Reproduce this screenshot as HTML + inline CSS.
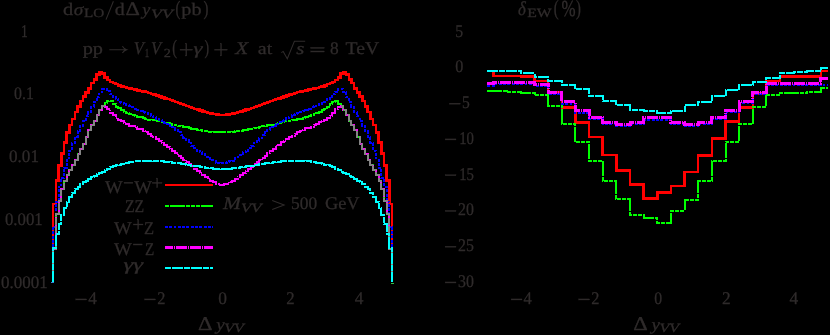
<!DOCTYPE html>
<html><head><meta charset="utf-8"><title>plot</title>
<style>html,body{margin:0;padding:0;background:#000;width:830px;height:335px;overflow:hidden;font-family:"Liberation Serif",serif}</style></head>
<body>
<svg width="830" height="335" viewBox="0 0 830 335" style="position:absolute;left:0;top:0">
<rect width="830" height="335" fill="#000"/>
<g fill="none" stroke-linejoin="miter" stroke-linecap="butt" shape-rendering="crispEdges">
<path d="M53.15 281.50V203.95 H55.86V180.40 H58.57V165.49 H61.29V153.59 H64.00V142.69 H66.71V132.65 H69.42V124.90 H72.13V118.98 H74.85V111.88 H77.56V106.38 H80.27V101.07 H82.98V96.27 H85.69V92.41 H88.41V88.25 H91.12V83.15 H93.83V79.32 H96.54V74.50 H99.25V72.00 H101.97V73.33 H104.68V77.53 H107.39V80.03 H110.10V81.77 H112.81V82.92 H115.53V84.17 H118.24V85.40 H120.95V86.30 H123.66V87.13 H126.37V87.93 H129.09V88.53 H131.80V89.12 H134.51V89.72 H137.22V90.32 H139.93V90.92 H142.65V91.52 H145.36V92.12 H148.07V92.88 H150.78V93.79 H153.49V94.70 H156.21V95.61 H158.92V96.52 H161.63V97.41 H164.34V98.28 H167.05V99.16 H169.77V100.04 H172.48V100.92 H175.19V101.91 H177.90V102.99 H180.61V104.06 H183.33V105.13 H186.04V106.21 H188.75V107.22 H191.46V108.05 H194.17V108.87 H196.89V109.70 H199.60V110.53 H202.31V111.36 H205.02V112.19 H207.73V113.02 H210.45V113.64 H213.16V114.15 H215.87V114.65 H218.58V114.97 H221.29V115.20 H224.01V114.97 H226.72V114.65 H229.43V114.15 H232.14V113.64 H234.85V113.02 H237.57V112.19 H240.28V111.36 H242.99V110.53 H245.70V109.70 H248.41V108.87 H251.13V108.05 H253.84V107.22 H256.55V106.21 H259.26V105.13 H261.97V104.06 H264.69V102.99 H267.40V101.91 H270.11V100.92 H272.82V100.04 H275.53V99.16 H278.25V98.28 H280.96V97.41 H283.67V96.52 H286.38V95.61 H289.09V94.70 H291.81V93.79 H294.52V92.88 H297.23V92.12 H299.94V91.52 H302.65V90.92 H305.37V90.32 H308.08V89.72 H310.79V89.12 H313.50V88.53 H316.21V87.93 H318.93V87.13 H321.64V86.30 H324.35V85.40 H327.06V84.17 H329.77V82.92 H332.49V81.77 H335.20V80.03 H337.91V77.53 H340.62V73.33 H343.33V72.00 H346.05V74.50 H348.76V79.32 H351.47V83.15 H354.18V88.25 H356.89V92.41 H359.61V96.27 H362.32V101.07 H365.03V106.38 H367.74V111.88 H370.45V118.98 H373.17V124.90 H375.88V132.65 H378.59V142.69 H381.30V153.59 H384.01V165.49 H386.73V180.40 H389.44V203.95 H392.15V281.50" stroke="#ff0000" stroke-width="2.5"/>
<path d="M53.15 281.50V248.92 H55.86V213.91 H58.57V200.87 H61.29V188.88 H64.00V181.38 H66.71V175.37 H69.42V169.86 H72.13V164.92 H74.85V159.81 H77.56V154.41 H80.27V149.01 H82.98V143.61 H85.69V137.36 H88.41V130.26 H91.12V125.03 H93.83V120.80 H96.54V114.80 H99.25V109.94 H101.97V106.13 H104.68V102.73 H107.39V100.62 H110.10V101.37 H112.81V104.09 H115.53V107.02 H118.24V108.40 H120.95V110.24 H123.66V111.64 H126.37V113.15 H129.09V114.27 H131.80V115.01 H134.51V115.77 H137.22V117.34 H139.93V117.17 H142.65V118.29 H145.36V119.21 H148.07V120.01 H150.78V120.20 H153.49V120.48 H156.21V121.13 H158.92V121.30 H161.63V121.99 H164.34V122.68 H167.05V123.04 H169.77V124.37 H172.48V124.67 H175.19V125.23 H177.90V126.13 H180.61V126.39 H183.33V126.79 H186.04V127.38 H188.75V128.20 H191.46V128.65 H194.17V129.09 H196.89V129.62 H199.60V130.48 H202.31V130.71 H205.02V130.92 H207.73V131.56 H210.45V131.96 H213.16V131.75 H215.87V132.16 H218.58V132.35 H221.29V132.44 H224.01V132.17 H226.72V131.84 H229.43V132.11 H232.14V131.74 H234.85V131.27 H237.57V131.31 H240.28V130.99 H242.99V130.16 H245.70V129.68 H248.41V128.96 H251.13V128.64 H253.84V127.70 H256.55V127.80 H259.26V126.60 H261.97V126.44 H264.69V125.62 H267.40V124.99 H270.11V124.63 H272.82V124.52 H275.53V123.54 H278.25V122.97 H280.96V122.10 H283.67V121.21 H286.38V121.17 H289.09V120.87 H291.81V120.35 H294.52V119.72 H297.23V119.11 H299.94V118.73 H302.65V117.61 H305.37V117.26 H308.08V115.67 H310.79V115.39 H313.50V113.99 H316.21V113.29 H318.93V112.13 H321.64V109.90 H324.35V109.00 H327.06V107.23 H329.77V103.70 H332.49V101.60 H335.20V100.75 H337.91V103.68 H340.62V106.13 H343.33V109.94 H346.05V114.80 H348.76V120.80 H351.47V125.03 H354.18V130.26 H356.89V137.36 H359.61V143.61 H362.32V149.01 H365.03V154.41 H367.74V159.81 H370.45V164.92 H373.17V169.86 H375.88V175.37 H378.59V181.38 H381.30V188.88 H384.01V200.87 H386.73V213.91 H389.44V248.92 H392.15V281.50" stroke="#00ff00" stroke-width="2.0" stroke-dasharray="15 1 4 1 4 1 4 1"/>
<path d="M53.15 281.50V226.94 H55.86V201.90 H58.57V186.90 H61.29V177.84 H64.00V167.62 H66.71V158.46 H69.42V150.70 H72.13V142.93 H74.85V136.82 H77.56V131.30 H80.27V125.78 H82.98V120.95 H85.69V116.44 H88.41V111.90 H91.12V106.95 H93.83V102.00 H96.54V97.21 H99.25V92.49 H101.97V89.20 H104.68V89.17 H107.39V91.27 H110.10V94.34 H112.81V97.15 H115.53V99.05 H118.24V101.65 H120.95V102.60 H123.66V104.31 H126.37V104.98 H129.09V106.10 H131.80V107.33 H134.51V108.67 H137.22V110.11 H139.93V110.50 H142.65V111.88 H145.36V112.82 H148.07V113.63 H150.78V115.64 H153.49V116.62 H156.21V118.77 H158.92V119.51 H161.63V120.60 H164.34V122.61 H167.05V123.96 H169.77V125.50 H172.48V127.39 H175.19V129.61 H177.90V132.33 H180.61V135.26 H183.33V137.65 H186.04V140.46 H188.75V143.17 H191.46V145.69 H194.17V148.42 H196.89V150.77 H199.60V152.49 H202.31V154.22 H205.02V156.64 H207.73V158.12 H210.45V160.29 H213.16V161.18 H215.87V162.65 H218.58V163.12 H221.29V163.00 H224.01V162.96 H226.72V162.24 H229.43V161.38 H232.14V160.66 H234.85V158.22 H237.57V156.63 H240.28V155.02 H242.99V152.20 H245.70V150.58 H248.41V147.97 H251.13V145.70 H253.84V142.90 H256.55V140.68 H259.26V138.12 H261.97V135.25 H264.69V132.06 H267.40V130.02 H270.11V127.08 H272.82V125.56 H275.53V124.38 H278.25V122.03 H280.96V121.01 H283.67V120.26 H286.38V118.06 H289.09V116.68 H291.81V114.96 H294.52V113.85 H297.23V112.97 H299.94V111.72 H302.65V110.55 H305.37V109.62 H308.08V108.50 H310.79V107.43 H313.50V106.43 H316.21V104.76 H318.93V104.04 H321.64V103.07 H324.35V101.85 H327.06V99.27 H329.77V96.81 H332.49V94.48 H335.20V91.90 H337.91V89.15 H340.62V89.20 H343.33V92.49 H346.05V97.21 H348.76V102.00 H351.47V106.95 H354.18V111.90 H356.89V116.44 H359.61V120.95 H362.32V125.78 H365.03V131.30 H367.74V136.82 H370.45V142.93 H373.17V150.70 H375.88V158.46 H378.59V167.62 H381.30V177.84 H384.01V186.90 H386.73V201.90 H389.44V226.94 H392.15V281.50" stroke="#0000ff" stroke-width="2.0" stroke-dasharray="2.9 1.4"/>
<path d="M53.15 281.50V248.92 H55.86V213.91 H58.57V200.87 H61.29V188.88 H64.00V181.38 H66.71V175.37 H69.42V169.86 H72.13V164.92 H74.85V159.81 H77.56V154.41 H80.27V149.01 H82.98V143.61 H85.69V137.36 H88.41V130.26 H91.12V125.03 H93.83V120.80 H96.54V114.80 H99.25V109.94 H101.97V106.13 H104.68V106.89 H107.39V108.83 H110.10V112.58 H112.81V115.49 H115.53V117.51 H118.24V119.90 H120.95V121.12 H123.66V122.72 H126.37V123.68 H129.09V125.53 H131.80V126.30 H134.51V127.35 H137.22V128.60 H139.93V129.45 H142.65V130.72 H145.36V132.14 H148.07V133.68 H150.78V135.68 H153.49V137.37 H156.21V138.98 H158.92V141.14 H161.63V142.57 H164.34V144.59 H167.05V146.78 H169.77V148.81 H172.48V150.97 H175.19V153.37 H177.90V155.60 H180.61V157.93 H183.33V159.85 H186.04V162.09 H188.75V164.21 H191.46V166.11 H194.17V168.63 H196.89V170.68 H199.60V172.77 H202.31V175.00 H205.02V176.96 H207.73V179.39 H210.45V180.92 H213.16V182.38 H215.87V183.81 H218.58V184.72 H221.29V184.89 H224.01V184.42 H226.72V183.70 H229.43V182.27 H232.14V180.95 H234.85V179.09 H237.57V177.27 H240.28V175.26 H242.99V172.88 H245.70V170.71 H248.41V168.69 H251.13V166.56 H253.84V164.31 H256.55V162.18 H259.26V159.85 H261.97V157.93 H264.69V155.65 H267.40V153.25 H270.11V150.86 H272.82V148.88 H275.53V146.33 H278.25V144.52 H280.96V142.44 H283.67V141.10 H286.38V138.94 H289.09V136.95 H291.81V135.66 H294.52V133.62 H297.23V132.22 H299.94V130.91 H302.65V129.61 H305.37V128.47 H308.08V127.51 H310.79V126.65 H313.50V125.34 H316.21V123.86 H318.93V122.45 H321.64V121.21 H324.35V119.69 H327.06V117.66 H329.77V115.59 H332.49V112.66 H335.20V108.99 H337.91V106.88 H340.62V106.13 H343.33V109.94 H346.05V114.80 H348.76V120.80 H351.47V125.03 H354.18V130.26 H356.89V137.36 H359.61V143.61 H362.32V149.01 H365.03V154.41 H367.74V159.81 H370.45V164.92 H373.17V169.86 H375.88V175.37 H378.59V181.38 H381.30V188.88 H384.01V200.87 H386.73V213.91 H389.44V248.92 H392.15V281.50" stroke="#ff00ff" stroke-width="2.0" stroke-dasharray="11 1 1 1"/>
<path d="M53.15 281.50V248.92 H55.86V213.91 H58.57V200.87 H61.29V188.88 H64.00V181.38 H66.71V175.37 H69.42V169.86 H72.13V164.92 H74.85V159.81 H77.56V154.41 H80.27V149.01 H82.98V143.61 H85.69V137.36 H88.41V130.26 H91.12V125.03 H93.83V120.80 H96.54V114.80 H99.25V109.94 H101.97V106.13 H104.68" stroke="#848484" stroke-width="2" stroke-dasharray="7 1.5"/>
<path d="M392.15 281.50V248.92 H389.44V213.91 H386.73V200.87 H384.01V188.88 H381.30V181.38 H378.59V175.37 H375.88V169.86 H373.17V164.92 H370.45V159.81 H367.74V154.41 H365.03V149.01 H362.32V143.61 H359.61V137.36 H356.89V130.26 H354.18V125.03 H351.47V120.80 H348.76V114.80 H346.05V109.94 H343.33V106.13 H340.62" stroke="#848484" stroke-width="2" stroke-dasharray="7 1.5"/>
<path d="M53.15 281.50V247.97 H55.86V234.41 H58.57V223.89 H61.29V215.07 H64.00V207.87 H66.71V201.76 H69.42V197.36 H72.13V192.77 H74.85V189.15 H77.56V186.79 H80.27V184.43 H82.98V182.37 H85.69V180.51 H88.41V178.64 H91.12V177.06 H93.83V175.56 H96.54V174.06 H99.25V172.73 H101.97V171.54 H104.68V170.34 H107.39V168.90 H110.10V167.37 H112.81V166.16 H115.53V165.37 H118.24V164.58 H120.95V163.79 H123.66V163.00 H126.37V162.60 H129.09V162.21 H131.80V161.81 H134.51V161.42 H137.22V161.25 H139.93V161.08 H142.65V160.92 H145.36V160.76 H148.07V160.59 H150.78V160.59 H153.49V160.80 H156.21V161.02 H158.92V161.23 H161.63V161.45 H164.34V161.66 H167.05V161.87 H169.77V162.17 H172.48V162.59 H175.19V163.01 H177.90V163.43 H180.61V163.85 H183.33V164.27 H186.04V164.69 H188.75V165.11 H191.46V165.53 H194.17V165.94 H196.89V166.36 H199.60V166.78 H202.31V167.19 H205.02V167.57 H207.73V167.90 H210.45V168.24 H213.16V168.57 H215.87V168.90 H218.58V169.08 H221.29V169.20 H224.01V169.08 H226.72V168.90 H229.43V168.57 H232.14V168.24 H234.85V167.90 H237.57V167.57 H240.28V167.19 H242.99V166.78 H245.70V166.36 H248.41V165.94 H251.13V165.53 H253.84V165.11 H256.55V164.69 H259.26V164.27 H261.97V163.85 H264.69V163.43 H267.40V163.01 H270.11V162.59 H272.82V162.17 H275.53V161.87 H278.25V161.66 H280.96V161.45 H283.67V161.23 H286.38V161.02 H289.09V160.80 H291.81V160.59 H294.52V160.59 H297.23V160.76 H299.94V160.92 H302.65V161.08 H305.37V161.25 H308.08V161.42 H310.79V161.81 H313.50V162.21 H316.21V162.60 H318.93V163.00 H321.64V163.79 H324.35V164.58 H327.06V165.37 H329.77V166.16 H332.49V167.37 H335.20V168.90 H337.91V170.34 H340.62V171.54 H343.33V172.73 H346.05V174.06 H348.76V175.56 H351.47V177.06 H354.18V178.64 H356.89V180.51 H359.61V182.37 H362.32V184.43 H365.03V186.79 H367.74V189.15 H370.45V192.77 H373.17V197.36 H375.88V201.76 H378.59V207.87 H381.30V215.07 H384.01V223.89 H386.73V234.41 H389.44V247.97 H392.15V281.50" stroke="#00ffff" stroke-width="2.0" stroke-dasharray="11 1 6 1"/>
<path d="M487.30 70.80H493.62V75.90H507.26V75.90H520.90V76.60H534.54V81.00H548.18V92.70H561.82V107.30H575.46V122.70H589.10V137.00H602.74V154.80H616.38V170.30H630.02V184.30H643.66V198.70H657.30V192.70H670.94V186.00H684.58V171.80H698.22V155.40H711.86V138.40H725.50V121.40H739.14V107.60H752.78V93.50H766.42V81.00H780.06V76.30H793.70V76.30H807.34V76.30H820.98V71.00H828.00" stroke="#ff0000" stroke-width="2.5"/>
<path d="M487.30 90.80H493.62V90.80H507.26V91.80H520.90V93.00H534.54V94.90H548.18V105.50H561.82V124.00H575.46V142.00H589.10V160.70H602.74V180.70H616.38V198.70H630.02V214.50H643.66V218.00H657.30V222.50H670.94V211.20H684.58V199.60H698.22V180.70H711.86V161.30H725.50V142.00H739.14V123.90H752.78V107.00H766.42V94.50H780.06V93.00H793.70V92.50H807.34V91.80H820.98V87.80H828.00" stroke="#00ff00" stroke-width="2.0" stroke-dasharray="15 1 4 1 4 1 4 1"/>
<path d="M487.30 85.60H493.62V84.10H507.26V84.10H520.90V84.10H534.54V85.80H548.18V94.30H561.82V103.60H575.46V112.60H589.10V119.20H602.74V124.00H616.38V126.40H630.02V124.00H643.66V119.60H657.30V119.60H670.94V124.00H684.58V126.40H698.22V124.00H711.86V119.00H725.50V112.30H739.14V103.30H752.78V94.30H766.42V84.80H780.06V84.80H793.70V84.80H807.34V84.80H820.98V84.70H828.00" stroke="#0000ff" stroke-width="2.0" stroke-dasharray="2.9 1.4"/>
<path d="M487.30 83.80H493.62V82.30H507.26V82.30H520.90V82.30H534.54V84.00H548.18V92.50H561.82V101.80H575.46V110.80H589.10V117.40H602.74V122.20H616.38V124.60H630.02V122.20H643.66V117.80H657.30V117.80H670.94V122.20H684.58V124.60H698.22V122.20H711.86V117.20H725.50V110.50H739.14V101.50H752.78V92.50H766.42V83.00H780.06V83.00H793.70V83.00H807.34V83.00H820.98V78.70H828.00" stroke="#ff00ff" stroke-width="3.0" stroke-dasharray="11 1 1 1"/>
<path d="M487.30 71.00H493.62V71.00H507.26V71.00H520.90V73.20H534.54V76.90H548.18V80.50H561.82V84.50H575.46V89.20H589.10V96.00H602.74V100.60H616.38V105.40H630.02V109.60H643.66V111.30H657.30V112.70H670.94V111.10H684.58V105.40H698.22V101.90H711.86V96.10H725.50V90.40H739.14V84.70H752.78V82.00H766.42V77.70H780.06V73.00H793.70V72.20H807.34V71.00H820.98V68.20H828.00" stroke="#00ffff" stroke-width="2.0" stroke-dasharray="11 1 6 1"/>
<path d="M164.9 185 H212.6" stroke="#ff0000" stroke-width="2"/>
<path d="M164.9 206 H212.6" stroke="#00ff00" stroke-width="2" stroke-dasharray="15 1 4 1 4 1 4 1" stroke-dashoffset="26"/>
<path d="M164.9 227 H212.6" stroke="#0000ff" stroke-width="2" stroke-dasharray="2.9 1.4" stroke-dashoffset="0"/>
<path d="M164.9 247.5 H212.6" stroke="#ff00ff" stroke-width="3" stroke-dasharray="11 1 1 1" stroke-dashoffset="3"/>
<path d="M164.9 268 H212.6" stroke="#00ffff" stroke-width="2" stroke-dasharray="11 1 6 1" stroke-dashoffset="12"/>
<rect x="51" y="282" width="3.2" height="1" fill="#3a80d8"/><rect x="390.6" y="282.5" width="3" height="1" fill="#30c040"/>
</g>
<g fill="#302c2c" stroke="#302c2c" stroke-width="0.3" opacity="0.999" font-family="'Liberation Serif', serif" text-rendering="geometricPrecision">
<text transform="matrix(0.7640 0 0 1.0000 21.00 37.00)" font-size="17.80">1</text>
<text transform="matrix(0.8944 0 0 1.0000 14.10 99.40)" font-size="17.80">0.1</text>
<text transform="matrix(0.9631 0 0 1.0000 9.00 162.10)" font-size="17.80">0.01</text>
<text transform="matrix(0.9438 0 0 1.0000 4.90 224.90)" font-size="17.80">0.001</text>
<text transform="matrix(0.9561 0 0 1.0000 0.90 287.50)" font-size="17.80">0.0001</text>
<rect x="75.80" y="298.90" width="10.90" height="1.10"/>
<text transform="matrix(0.9663 0 0 1.0000 88.30 303.80)" font-size="17.80">4</text>
<rect x="144.60" y="298.90" width="10.90" height="1.10"/>
<text transform="matrix(0.9213 0 0 1.0000 157.20 303.80)" font-size="17.80">2</text>
<text transform="matrix(0.9775 0 0 1.0000 218.30 303.80)" font-size="17.80">0</text>
<text transform="matrix(0.9438 0 0 1.0000 286.30 303.80)" font-size="17.80">2</text>
<text transform="matrix(0.9775 0 0 1.0000 354.80 303.80)" font-size="17.80">4</text>
<rect x="511.10" y="298.90" width="10.90" height="1.10"/>
<text transform="matrix(0.9326 0 0 1.0000 523.60 303.80)" font-size="17.80">4</text>
<rect x="578.70" y="298.90" width="10.90" height="1.10"/>
<text transform="matrix(0.9213 0 0 1.0000 591.20 303.80)" font-size="17.80">2</text>
<text transform="matrix(0.8876 0 0 1.0000 654.30 303.80)" font-size="17.80">0</text>
<text transform="matrix(0.9775 0 0 1.0000 721.90 303.80)" font-size="17.80">2</text>
<text transform="matrix(0.9775 0 0 1.0000 789.50 303.80)" font-size="17.80">4</text>
<text transform="matrix(0.8876 0 0 1.0000 455.20 36.50)" font-size="17.80">5</text>
<text transform="matrix(0.9101 0 0 1.0000 455.20 72.26)" font-size="17.80">0</text>
<rect x="449.40" y="103.12" width="10.90" height="1.10"/>
<text transform="matrix(0.8764 0 0 1.0000 462.00 108.02)" font-size="17.80">5</text>
<rect x="445.10" y="138.88" width="10.90" height="1.10"/>
<text transform="matrix(0.8315 0 0 1.0000 459.20 143.78)" font-size="17.80">10</text>
<rect x="445.10" y="174.64" width="10.90" height="1.10"/>
<text transform="matrix(0.8315 0 0 1.0000 459.20 179.54)" font-size="17.80">15</text>
<rect x="445.10" y="210.40" width="10.90" height="1.10"/>
<text transform="matrix(0.8933 0 0 1.0000 458.10 215.30)" font-size="17.80">20</text>
<rect x="445.10" y="246.16" width="10.90" height="1.10"/>
<text transform="matrix(0.8933 0 0 1.0000 458.10 251.06)" font-size="17.80">25</text>
<rect x="445.10" y="281.92" width="10.90" height="1.10"/>
<text transform="matrix(0.8933 0 0 1.0000 458.10 286.82)" font-size="17.80">30</text>
<text transform="matrix(1.1657 0 0 1.0000 63.10 15.00)" font-size="17.50">d</text>
<text transform="matrix(1.1429 0 0 1.0000 73.70 15.00)" font-size="17.00" font-style="italic">σ</text>
<text transform="matrix(1.2091 0 0 1.0000 83.90 17.40)" font-size="12.60">LO</text>
<path d="M106 19.6 L113.4 1.2" stroke="#302c2c" stroke-width="1.1" fill="none"/>
<text transform="matrix(1.1429 0 0 1.0000 114.80 15.00)" font-size="17.50">d</text>
<text transform="matrix(1.2807 0 0 1.1082 125.40 15.00)" font-size="17.50">Δ</text>
<text transform="matrix(1.0655 0 0 1.0000 142.34 15.00)" font-size="17.00" font-style="italic">y</text>
<text transform="matrix(1.4156 0 0 1.0000 151.00 17.60)" font-size="12.60" font-style="italic">VV</text>
<text transform="matrix(0.8345 0 0 1.1784 175.50 15.17)" font-size="17.30">(</text>
<text transform="matrix(1.1543 0 0 1.0000 181.30 15.00)" font-size="17.50">pb</text>
<text transform="matrix(0.8518 0 0 1.1784 203.40 15.17)" font-size="17.30">)</text>
<text transform="matrix(1.1941 0 0 1.0000 82.70 54.00)" font-size="17.00">pp</text>
<path d="M109.3 49.7 H126.2 M122.4 46.3 Q123.8 48.9 126.7 49.7 Q123.8 50.5 122.4 53.1" stroke="#302c2c" stroke-width="1.05" fill="none"/>
<text transform="matrix(0.9291 0 0 1.0000 133.80 54.00)" font-size="17.80" font-style="italic">V</text>
<text transform="matrix(0.7154 0 0 1.0000 144.80 56.60)" font-size="12.30">1</text>
<text transform="matrix(0.9291 0 0 1.0000 151.10 54.00)" font-size="17.80" font-style="italic">V</text>
<text transform="matrix(1.1545 0 0 1.0000 163.70 56.60)" font-size="12.30">2</text>
<text transform="matrix(0.8171 0 0 1.1784 172.30 54.17)" font-size="17.30">(</text>
<rect x="180.00" y="49.20" width="12.60" height="1.00"/><rect x="185.80" y="43.40" width="1.00" height="12.60"/>
<text transform="matrix(1.3385 0 0 1.0000 193.50 54.00)" font-size="17.00" font-style="italic">γ</text>
<text transform="matrix(0.7997 0 0 1.1784 204.40 54.17)" font-size="17.30">)</text>
<rect x="214.80" y="49.20" width="12.50" height="1.00"/><rect x="220.55" y="43.45" width="1.00" height="12.50"/>
<text transform="matrix(1.1980 0 0 1.0000 235.35 54.00)" font-size="17.80" font-style="italic">X</text>
<text transform="matrix(1.1724 0 0 1.0000 257.80 54.00)" font-size="17.00">at</text>
<path d="M281.3 52.6 L283.2 51.4 L287.3 58.8 L294.4 41.3 H305.2" stroke="#302c2c" stroke-width="1.05" fill="none" stroke-linejoin="miter"/>
<text transform="matrix(1.2217 0 0 1.0000 296.30 54.00)" font-size="17.00" font-style="italic">s</text>
<rect x="310.80" y="47.35" width="13.50" height="1.10"/>
<rect x="310.80" y="50.95" width="13.50" height="1.10"/>
<text transform="matrix(0.9775 0 0 1.0000 330.00 54.00)" font-size="17.80">8</text>
<text transform="matrix(1.1088 0 0 1.0000 345.50 54.00)" font-size="17.80">TeV</text>
<text transform="matrix(1.2149 0 0 1.0000 222.97 209.30)" font-size="17.80" font-style="italic">M</text>
<text transform="matrix(1.3373 0 0 1.0000 241.00 212.20)" font-size="12.60" font-style="italic">VV</text>
<path d="M272.2 200.4 L284.2 205.0 L272.2 209.6" stroke="#302c2c" stroke-width="1.05" fill="none"/>
<text transform="matrix(0.9775 0 0 1.0000 291.10 209.30)" font-size="17.80">500</text>
<text transform="matrix(1.0328 0 0 1.0000 324.90 209.30)" font-size="17.80">GeV</text>
<text transform="matrix(1.0523 0 0 1.0000 105.10 192.50)" font-size="17.80">W</text>
<rect x="124.00" y="182.25" width="8.90" height="1.10"/>
<text transform="matrix(1.0523 0 0 1.0000 134.20 192.50)" font-size="17.80">W</text>
<rect x="152.30" y="182.40" width="9.70" height="1.00"/><rect x="156.65" y="178.05" width="1.00" height="9.70"/>
<text transform="matrix(0.8915 0 0 1.0000 124.90 211.90)" font-size="17.80">ZZ</text>
<text transform="matrix(1.0523 0 0 1.0000 113.90 234.00)" font-size="17.80">W</text>
<rect x="133.30" y="224.00" width="9.70" height="1.00"/><rect x="137.65" y="219.65" width="1.00" height="9.70"/>
<text transform="matrix(0.9302 0 0 1.0000 143.90 234.00)" font-size="17.80">Z</text>
<text transform="matrix(1.0582 0 0 1.0000 114.00 254.60)" font-size="17.80">W</text>
<rect x="133.20" y="243.95" width="9.00" height="1.10"/>
<text transform="matrix(0.8565 0 0 1.0000 145.10 254.60)" font-size="17.80">Z</text>
<text transform="matrix(1.4552 0 0 1.0000 123.60 270.00)" font-size="17.00" font-style="italic">γγ</text>
<text transform="matrix(1.2896 0 0 1.1169 198.10 329.80)" font-size="17.50">Δ</text>
<text transform="matrix(1.1210 0 0 1.0000 216.22 329.80)" font-size="17.00" font-style="italic">y</text>
<text transform="matrix(1.2771 0 0 1.0000 224.30 332.40)" font-size="12.60" font-style="italic">VV</text>
<text transform="matrix(1.2896 0 0 1.1169 633.30 329.80)" font-size="17.50">Δ</text>
<text transform="matrix(1.1210 0 0 1.0000 651.42 329.80)" font-size="17.00" font-style="italic">y</text>
<text transform="matrix(1.2771 0 0 1.0000 659.50 332.40)" font-size="12.60" font-style="italic">VV</text>
<text transform="matrix(0.9754 0 0 1.1396 518.00 14.80)" font-size="17.30" font-style="italic">δ</text>
<text transform="matrix(1.2453 0 0 1.0000 527.20 17.30)" font-size="12.60">EW</text>
<text transform="matrix(0.8518 0 0 1.2548 553.80 15.09)" font-size="17.30">(</text>
<text transform="matrix(0.9790 0 0 1.3224 561.40 15.71)" font-size="17.30">%</text>
<text transform="matrix(0.8518 0 0 1.2548 576.00 15.09)" font-size="17.30">)</text>
</g>
</svg>
</body></html>
